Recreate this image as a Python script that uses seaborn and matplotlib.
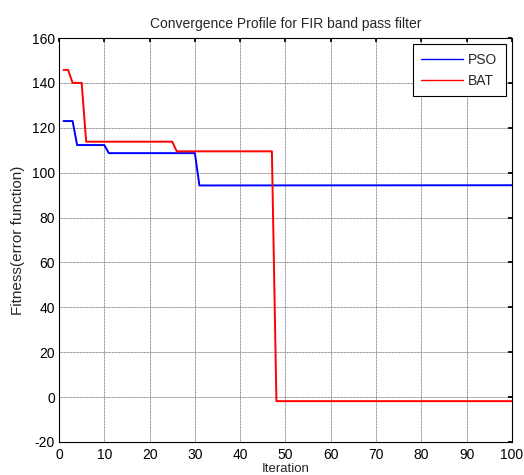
import matplotlib
matplotlib.use("Agg")
import matplotlib.pyplot as plt
import seaborn as sns
import pandas as pd

# Breakpoints (iteration, fitness)
pso_iter = [1, 3, 4, 10, 11, 30, 31, 100]
pso_fit = [123.0, 123.0, 112.3, 112.3, 108.7, 108.7, 94.3, 94.4]
bat_iter = [1, 2, 3, 5, 6, 25, 26, 47, 48, 100]
bat_fit = [145.8, 145.8, 140.0, 140.0, 113.8, 113.8, 109.5, 109.5, -1.8, -1.8]

title = "Convergence Profile for FIR band pass filter"
xlabel = "Iteration"
ylabel = "Fitness(error function)"
xticks = list(range(0, 101, 10))
yticks = list(range(-20, 161, 20))

df = pd.concat([
    pd.DataFrame({"Iteration": pso_iter, "Fitness": pso_fit, "Algorithm": "PSO"}),
    pd.DataFrame({"Iteration": bat_iter, "Fitness": bat_fit, "Algorithm": "BAT"}),
], ignore_index=True)

sns.set_theme(style="white")
plt.rcParams["font.family"] = ["Liberation Sans", "DejaVu Sans"]
plt.rcParams["axes.unicode_minus"] = False

fig = plt.figure(figsize=(5.24, 4.75), dpi=100)
ax = fig.add_axes([0.1126, 0.0695, 0.8644, 0.8505])

sns.lineplot(data=df, x="Iteration", y="Fitness", hue="Algorithm",
             palette={"PSO": "#0000ff", "BAT": "#ff0000"},
             sort=False, estimator=None, linewidth=1.4, ax=ax)

ax.set_xlim(0, 100)
ax.set_ylim(-20, 160)
ax.set_xticks(xticks)
ax.set_yticks(yticks)
ax.tick_params(direction="in", length=3, labelsize=10, colors="black",
               top=True, right=True)
ax.tick_params(axis="y", pad=3)
ax.tick_params(axis="x", pad=4)
ax.grid(True, color="#8a8a8a", linestyle=(0, (1, 0.5)), linewidth=0.7)
for s in ax.spines.values():
    s.set_visible(True)
    s.set_color("black")
    s.set_linewidth(0.8)

ax.set_title(title, fontsize=10, pad=7)
ax.set_xlabel(xlabel, fontsize=9.5, labelpad=1)
ax.set_ylabel(ylabel, fontsize=11, labelpad=5)

leg = ax.legend(loc="upper right", fontsize=10, frameon=True, fancybox=False,
                edgecolor="black", framealpha=1, handlelength=3.0,
                handletextpad=0.4, borderaxespad=0.45, labelspacing=0.5,
                borderpad=0.6)
leg.get_frame().set_linewidth(0.8)
for line in leg.get_lines():
    line.set_linewidth(1.0)

fig.savefig("out.png", dpi=100, facecolor="white")
